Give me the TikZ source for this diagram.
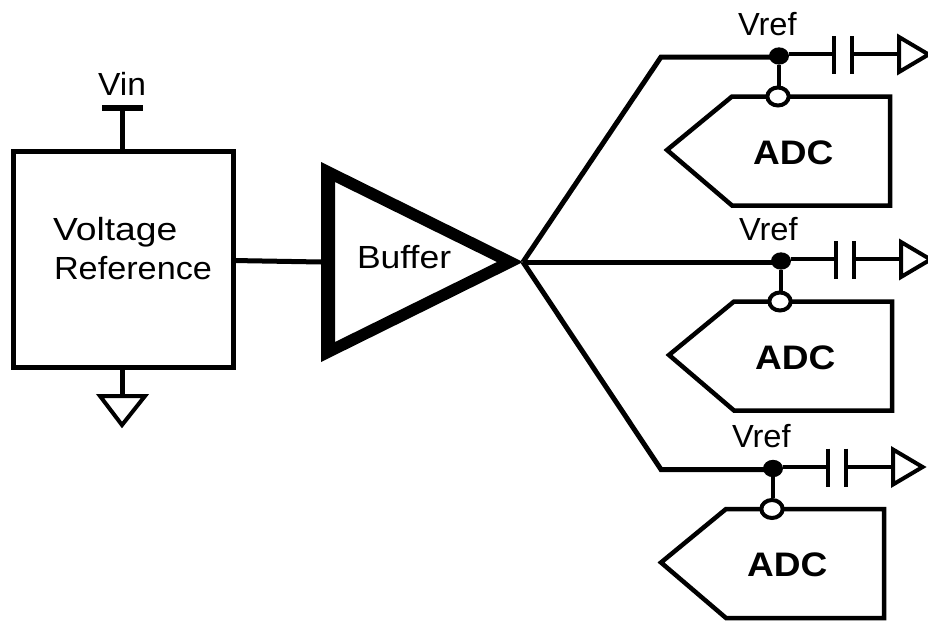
\documentclass[tikz,border=0pt]{standalone}
\usepackage{fontspec}
\setmainfont{Liberation Sans}
\usetikzlibrary{shapes.geometric}
\tikzset{
  px/.style={line width=#1*0.75pt},
  wire/.style={px=5,line cap=butt,line join=miter},
  thinwire/.style={px=4,line cap=butt},
  outline/.style={px=5,line join=miter},
  gnd/.style={px=4,line join=miter,miter limit=10},
  lbl/.style={anchor=base west,inner sep=0pt,outer sep=0pt,font=\fontsize{24pt}{26pt}\selectfont},
  adclbl/.style={anchor=base west,inner sep=0pt,outer sep=0pt,font=\fontsize{25.5pt}{27pt}\selectfont\bfseries},
  joindot/.style={ellipse,fill=black,draw=none,minimum width=15pt,minimum height=13pt,inner sep=0pt},
  opendot/.style={ellipse,fill=white,draw=black,px=4,minimum width=16pt,minimum height=13.5pt,inner sep=0pt},
}
\newcommand{\adcblock}[4]{%
  \begin{scope}[shift={(#2,#3)}]
    \coordinate (plA#1) at (834,54);
    \coordinate (plB#1) at (852,54);
    \coordinate (gnd#1) at (899,54);
    \draw[outline,fill=white,px=4.5] (732,96.5) -- (667,150) -- (732,205.5) -- (890,205.5) -- (890,96.5) -- cycle;
    \node[adclbl] (adc#1) at (753,164) {\scalebox{1.09}[1]{ADC}};
    \node[lbl] (vref#1) at (738+#4,35) {\scalebox{1.02}[1]{Vref}};
    \node[joindot] (j#1) at (779,56) {};
    \node[opendot] (o#1) at (778,96.5) {};
    \draw[thinwire] (j#1.south) -- (o#1.north -| j#1.south);
    \draw[thinwire] (j#1.east |- plA#1) -- (plA#1);
    \draw[thinwire] (plB#1) -- (gnd#1);
    \draw[px=4.5] (834,36) -- (834,74);
    \draw[px=4.5] (852,36) -- (852,74);
    \draw[gnd] (899,37) -- (928.6,54.5) -- (899,72) -- cycle;
    \coordinate (wireend#1) at (779,57);
  \end{scope}}
\begin{document}
\begin{tikzpicture}[x=0.75pt,y=-0.75pt]
\useasboundingbox (0,0) rectangle (928,621);
% reference box
\coordinate (boxR) at (233,260.5);
\coordinate (vinTop) at (122,108);
\coordinate (boxT) at (122,151);
\coordinate (boxB) at (122,367);
\coordinate (gndTop) at (122,395);
\draw[outline] (13.5,151.5) rectangle (233,367);
\draw[wire] (boxT) -- (vinTop);
\draw[px=6] (102,108) -- (143,108);
\draw[wire] (boxB) -- (gndTop);
\draw[gnd] (100,396) -- (145,396) -- (122,425) -- cycle;
\node[lbl] (vin) at (98,95) {\scalebox{1.05}[1]{Vin}};
\node[lbl] (volt) at (53,240) {\scalebox{1.165}[1]{Voltage}};
\node[lbl] (refr) at (54,279) {\scalebox{1.07}[1]{Reference}};
% buffer
\coordinate (bufL) at (321,262);
\coordinate (bufT) at (523,262);
\fill[even odd rule] (321,162) -- (523,262) -- (321,362) -- cycle
  (335,182) -- (497,262) -- (335,342) -- cycle;
\node[lbl] (buffer) at (357,268) {\scalebox{1.11}[1]{Buffer}};
\draw[wire] (boxR) -- (bufL);
% ADC blocks
\adcblock{1}{0}{0}{0}
\adcblock{2}{2}{205}{-1}
\adcblock{3}{-6}{412.5}{0}
\coordinate (bend1) at (661,57);
\coordinate (bend3) at (661,469.5);
\draw[wire] (bufT) -- (bend1) -- (wireend1);
\draw[wire] (bufT) -- (wireend2);
\draw[wire] (bufT) -- (bend3) -- (wireend3);
\end{tikzpicture}
\end{document}
